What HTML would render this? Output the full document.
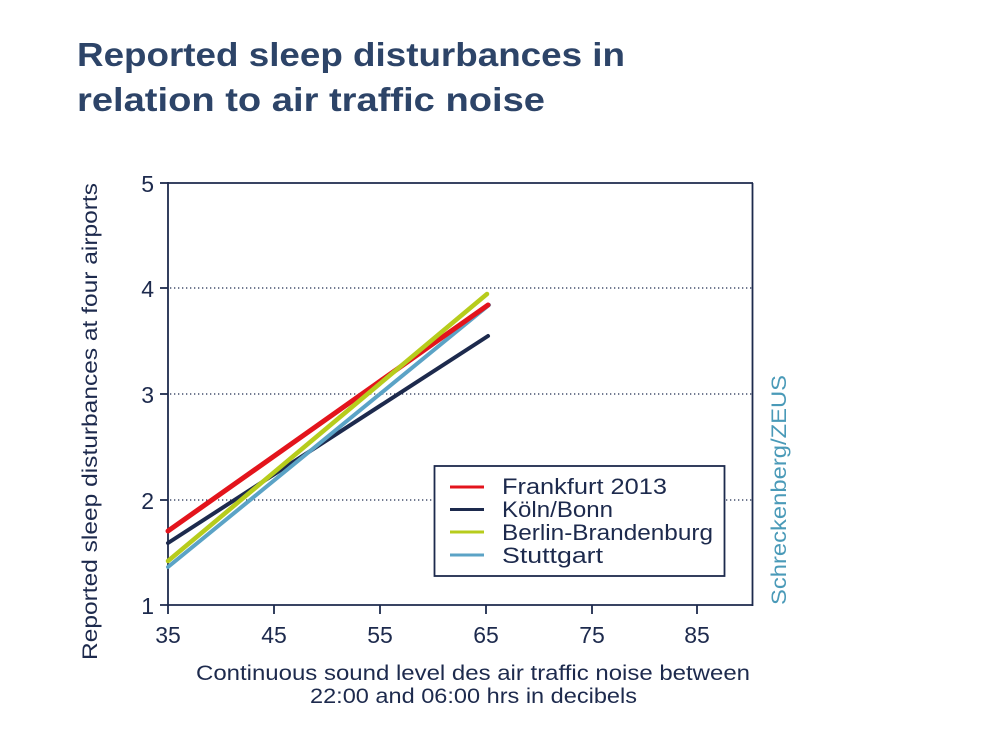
<!DOCTYPE html>
<html>
<head>
<meta charset="utf-8">
<style>
html,body{margin:0;padding:0;background:#fff;}
svg{display:block;}
text{font-family:"Liberation Sans",sans-serif;}
</style>
</head>
<body>
<svg width="1000" height="750" viewBox="0 0 1000 750" xmlns="http://www.w3.org/2000/svg">
<rect width="1000" height="750" fill="#fff"/>
<!-- Title -->
<text x="77" y="66" font-size="33" font-weight="bold" fill="#2d4468" textLength="548" lengthAdjust="spacingAndGlyphs">Reported sleep disturbances in</text>
<text x="77" y="111" font-size="33" font-weight="bold" fill="#2d4468" textLength="468" lengthAdjust="spacingAndGlyphs">relation to air traffic noise</text>

<!-- gridlines -->
<g stroke="#1d2a4d" stroke-width="1.3" stroke-dasharray="1.3 2.7">
<line x1="170" y1="288" x2="752" y2="288"/>
<line x1="170" y1="394" x2="752" y2="394"/>
<line x1="170" y1="500" x2="752" y2="500"/>
</g>

<!-- frame -->
<g stroke="#1d2a4d" stroke-width="1.8" fill="none">
<line x1="168" y1="183" x2="753" y2="183"/>
<line x1="752.5" y1="183" x2="752.5" y2="606"/>
<line x1="168" y1="182" x2="168" y2="606"/>
<line x1="160" y1="605" x2="753" y2="605"/>
<!-- y ticks -->
<line x1="160" y1="183" x2="168" y2="183"/>
<line x1="160" y1="288" x2="168" y2="288"/>
<line x1="160" y1="394" x2="168" y2="394"/>
<line x1="160" y1="500" x2="168" y2="500"/>
<!-- x ticks -->
<line x1="168" y1="605" x2="168" y2="614"/>
<line x1="274" y1="605" x2="274" y2="614"/>
<line x1="380" y1="605" x2="380" y2="614"/>
<line x1="486" y1="605" x2="486" y2="614"/>
<line x1="592" y1="605" x2="592" y2="614"/>
<line x1="697" y1="605" x2="697" y2="614"/>
</g>

<!-- y tick labels -->
<g font-size="23" fill="#1d2a4d" text-anchor="end">
<text x="154" y="192">5</text>
<text x="154" y="297">4</text>
<text x="154" y="403">3</text>
<text x="154" y="509">2</text>
<text x="154" y="614">1</text>
</g>
<!-- x tick labels -->
<g font-size="23" fill="#1d2a4d" text-anchor="middle">
<text x="168" y="643">35</text>
<text x="274" y="643">45</text>
<text x="380" y="643">55</text>
<text x="486" y="643">65</text>
<text x="592" y="643">75</text>
<text x="697" y="643">85</text>
</g>

<!-- axis titles -->
<text x="196" y="680" font-size="21" fill="#1d2a4d" textLength="554" lengthAdjust="spacingAndGlyphs">Continuous sound level des air traffic noise between</text>
<text x="310" y="703" font-size="21" fill="#1d2a4d" textLength="327" lengthAdjust="spacingAndGlyphs">22:00 and 06:00 hrs in decibels</text>
<text transform="translate(97,660) rotate(-90)" font-size="21" fill="#1d2a4d" textLength="477" lengthAdjust="spacingAndGlyphs">Reported sleep disturbances at four airports</text>
<text transform="translate(786,605) rotate(-90)" font-size="21" fill="#4a9ab8" textLength="230" lengthAdjust="spacingAndGlyphs">Schreckenberg/ZEUS</text>

<!-- series -->
<g stroke-linecap="round" fill="none">
<line x1="168" y1="543" x2="488" y2="336" stroke="#1d2a4d" stroke-width="4"/>
<line x1="168" y1="567" x2="489" y2="305" stroke="#5ba3c6" stroke-width="4"/>
<line x1="168" y1="531" x2="488" y2="305" stroke="#e3141c" stroke-width="5"/>
<line x1="168" y1="561" x2="487" y2="294" stroke="#b7cc1c" stroke-width="4.5"/>
</g>

<!-- legend -->
<rect x="434.5" y="466" width="290" height="110" fill="#fff" stroke="#1d2a4d" stroke-width="1.8"/>
<g stroke-width="3">
<line x1="450" y1="487" x2="484" y2="487" stroke="#e3141c"/>
<line x1="450" y1="509.5" x2="484" y2="509.5" stroke="#1d2a4d"/>
<line x1="450" y1="532" x2="484" y2="532" stroke="#b7cc1c"/>
<line x1="450" y1="555" x2="484" y2="555" stroke="#5ba3c6"/>
</g>
<g font-size="22" fill="#1d2a4d">
<text x="502" y="494" textLength="165" lengthAdjust="spacingAndGlyphs">Frankfurt 2013</text>
<text x="502" y="517" textLength="111" lengthAdjust="spacingAndGlyphs">Köln/Bonn</text>
<text x="502" y="540" textLength="211" lengthAdjust="spacingAndGlyphs">Berlin-Brandenburg</text>
<text x="502" y="563" textLength="101" lengthAdjust="spacingAndGlyphs">Stuttgart</text>
</g>
</svg>
</body>
</html>
